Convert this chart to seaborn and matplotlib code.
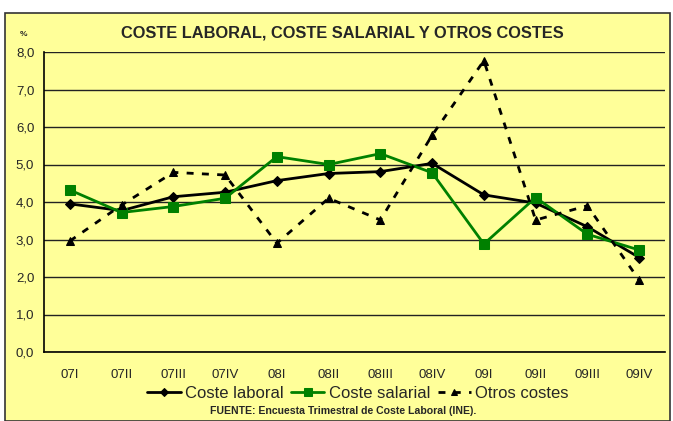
import numpy as np
import pandas as pd
import matplotlib
matplotlib.use('Agg')
import matplotlib.pyplot as plt
from matplotlib.patches import Rectangle
from matplotlib.ticker import FuncFormatter
import seaborn as sns

periodos = ['07I', '07II', '07III', '07IV', '08I', '08II', '08III', '08IV',
            '09I', '09II', '09III', '09IV']
coste_laboral = [3.95, 3.77, 4.14, 4.26, 4.57, 4.76, 4.81, 5.03, 4.19, 3.97, 3.34, 2.52]
coste_salarial = [4.32, 3.72, 3.88, 4.10, 5.21, 5.00, 5.29, 4.78, 2.88, 4.12, 3.14, 2.72]
otros_costes = [2.96, 3.92, 4.79, 4.72, 2.90, 4.10, 3.52, 5.78, 7.77, 3.52, 3.90, 1.92]

bg = '#FFFF99'
sns.set_style('white')
plt.rcParams['font.family'] = ['Liberation Sans', 'DejaVu Sans']

pos = np.arange(len(periodos))
df = pd.DataFrame({'pos': pos, 'laboral': coste_laboral,
                   'salarial': coste_salarial, 'otros': otros_costes})

fig = plt.figure(figsize=(6.73, 4.21), dpi=100)
fig.patch.set_facecolor('white')
# chart area with border
fig.patches.append(Rectangle((5 / 673, 0), 665 / 673, 1 - 13 / 421,
                             transform=fig.transFigure, facecolor=bg,
                             edgecolor='#333333', lw=1.2, zorder=-10))

ax = fig.add_axes([44 / 673, 1 - 352 / 421, 621 / 673, 300 / 421])
ax.set_facecolor(bg)

sns.lineplot(data=df, x='pos', y='laboral', ax=ax, color='black', lw=2,
             marker='D', markersize=5.5, markeredgecolor='black',
             label='Coste laboral')
sns.lineplot(data=df, x='pos', y='salarial', ax=ax, color='#008000', lw=2,
             marker='s', markersize=7.5, markeredgecolor='#008000',
             label='Coste salarial')
sns.lineplot(data=df, x='pos', y='otros', ax=ax, color='black', lw=2,
             linestyle=(0, (2.5, 3)), marker='^', markersize=5.5,
             markeredgecolor='black', label='Otros costes')

ax.set_xlim(-0.5, len(periodos) - 0.5)
ax.set_ylim(0, 8)
ax.set_yticks(np.arange(0, 9, 1))
ax.yaxis.set_major_formatter(FuncFormatter(lambda v, p: f'{v:.1f}'.replace('.', ',')))
ax.set_xticks(pos)
ax.set_xticklabels(periodos)
ax.set_xticks(np.arange(-0.5, len(periodos)), minor=True)
ax.tick_params(axis='x', which='major', length=0, pad=12, labelsize=9.5)
ax.tick_params(axis='x', which='minor', length=5, width=1, direction='out', color='black')
ax.tick_params(axis='y', length=5, width=1, direction='out', color='black', labelsize=9.5, pad=2)
ax.set_xlabel('')
ax.set_ylabel('')

ax.grid(axis='y', color='#222222', lw=1)
ax.set_axisbelow(True)
for s in ['top', 'right']:
    ax.spines[s].set_visible(False)
for s in ['left', 'bottom']:
    ax.spines[s].set_color('black')
    ax.spines[s].set_linewidth(1.2)

ax.legend(loc='center', bbox_to_anchor=(358 / 673, 1 - 393 / 421),
          bbox_transform=fig.transFigure, ncol=3, frameon=False,
          fontsize=12, handlelength=2.0, handletextpad=0.25, columnspacing=0.45,
          markerscale=0.8)

fig.text(342 / 673, 1 - 33 / 421, 'COSTE LABORAL, COSTE SALARIAL Y OTROS COSTES',
         ha='center', va='center', fontsize=11.8, fontweight='bold')
fig.text(24 / 673, 1 - 35 / 421, '%', ha='center', va='center', fontsize=6,
         fontweight='bold')
fig.text(343 / 673, 1 - 411 / 421, 'FUENTE: Encuesta Trimestral de Coste Laboral (INE).',
         ha='center', va='center', fontsize=7.6, fontweight='bold')

fig.savefig('out.png', dpi=100, facecolor=fig.get_facecolor())
